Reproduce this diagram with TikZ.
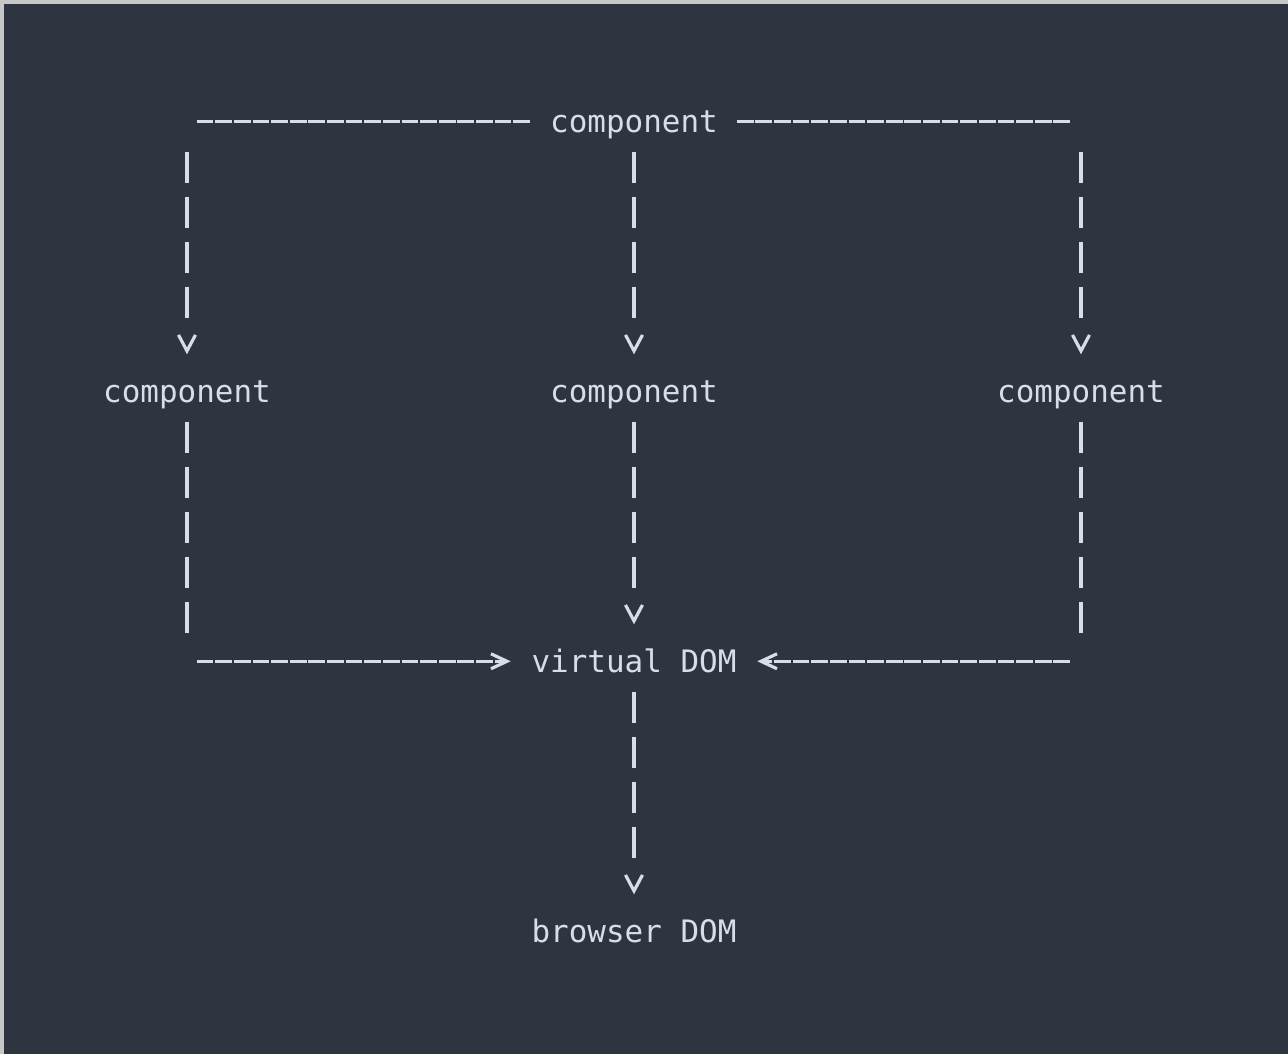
\documentclass[tikz,border=0pt]{standalone}
\usepackage{fontspec}
\setmonofont{DejaVu Sans Mono}
\usepackage{tikz}
\usetikzlibrary{arrows.meta,calc}
\usepackage{xcolor}
\definecolor{termbg}{HTML}{2E3440}
\definecolor{termfg}{HTML}{D8DEE9}

\begin{document}
\begin{tikzpicture} [
    x = 0.18625cm, y = -0.45cm,
    every node/.style = {text = termfg, inner sep = 0, anchor = mid, yshift = -0.035cm,
      font = \ttfamily\fontsize{8.8pt}{10pt}\selectfont},
    hdash/.style = {termfg, line width = 0.9pt, dash pattern = on 0.168cm off 0.01825cm},
    vdash/.style = {termfg, line width = 0.9pt, dash pattern = on 0.31cm off 0.14cm},
    vlast/.style = {termfg, line width = 0.9pt,
      dash pattern = on 0.31cm off 0.14cm on 0.31cm off 0.14cm on 0.31cm off 0.14cm on 0.31cm off 2cm},
    vhead/.style = {-{Straight Barb[length = 0.16cm, width = 0.17cm]}},
    hhead/.style = {-{Straight Barb[length = 0.16cm, width = 0.15cm]}}
    ]

    % window
    \useasboundingbox[fill = black!22] (-10.04,-2.6956) rectangle (59.114,20.727);
    \fill[termbg] (-9.826,-2.6067) rectangle (59.114,20.727);

    \node (top) at (24,0) {component};
    \node (compL) at (0,6) {component};
    \node (compC) at (24,6) {component};
    \node (compR) at (48,6) {component};
    \node (vdom) at (24,12) {virtual DOM};
    \node (bdom) at (24,18) {browser DOM};

    % top -> components
    \draw[hdash] ($(top.mid -| compL.mid)+(0.52,-0.078)$) -- ($(top.mid)+(-5.5,-0.078)$);
    \draw[hdash] ($(top.mid)+(5.52,-0.078)$) -- ($(top.mid -| compR.mid)+(-0.5,-0.078)$);
    \draw[vlast, vhead] ($(top.mid -| compL.mid)+(0,0.598)$) -- ($(compL.mid)+(0,-0.9)$);
    \draw[vlast, vhead] ($(top.mid)+(0,0.598)$) -- ($(compC.mid)+(0,-0.9)$);
    \draw[vlast, vhead] ($(top.mid -| compR.mid)+(0,0.598)$) -- ($(compR.mid)+(0,-0.9)$);

    % components -> virtual DOM
    \draw[vdash] ($(compL.mid)+(0,0.598)$) -- ($(compL.mid)+(0,5.29)$);
    \draw[vdash] ($(compR.mid)+(0,0.598)$) -- ($(compR.mid)+(0,5.29)$);
    \draw[vlast, vhead] ($(compC.mid)+(0,0.598)$) -- ($(vdom.mid)+(0,-0.9)$);
    \draw[hdash, hhead] ($(vdom.mid -| compL.mid)+(0.52,-0.078)$) -- ($(vdom.mid)+(-6.62,-0.078)$);
    \draw[hdash, hhead] ($(vdom.mid -| compR.mid)+(-0.58,-0.078)$) -- ($(vdom.mid)+(6.62,-0.078)$);

    % virtual DOM -> browser DOM
    \draw[vlast, vhead] ($(vdom.mid)+(0,0.598)$) -- ($(bdom.mid)+(0,-0.9)$);
  \end{tikzpicture}
\end{document}
